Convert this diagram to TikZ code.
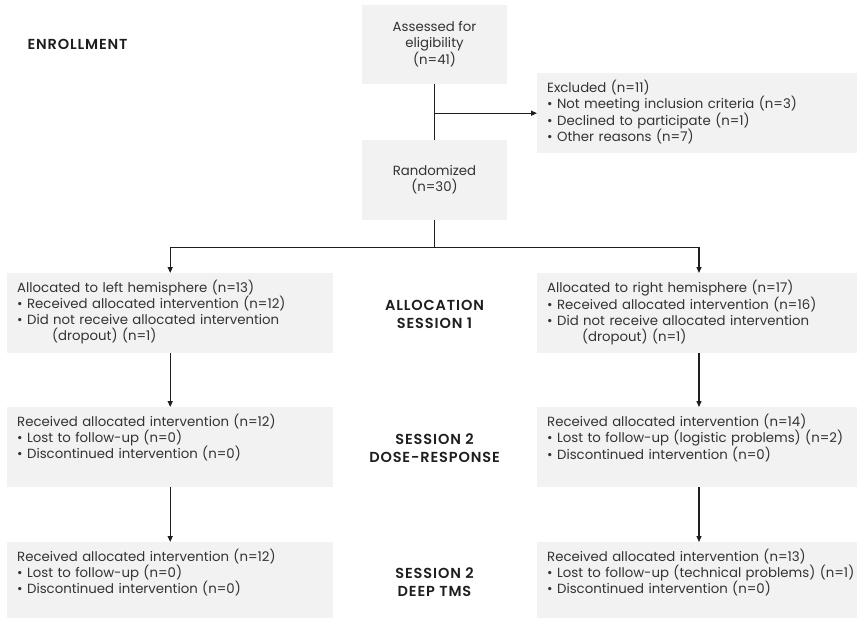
\documentclass[tikz,border=0pt]{standalone}
\usepackage{fontspec}
\setmainfont{Poppins}
\newfontfamily\labelfont{Poppins SemiBold}[LetterSpace=6]
\usetikzlibrary{arrows.meta,positioning,calc}
\definecolor{boxbg}{HTML}{F2F2F2}
\definecolor{ink}{HTML}{333333}
\definecolor{linex}{HTML}{1E1E1E}
\tikzset{
  ar/.style={-{Triangle[length=6pt,width=5pt]},line width=1.3pt,linex},
  ln/.style={line width=1.3pt,linex},
  cbox/.style={fill=boxbg,text=ink,align=center,minimum width=145pt,minimum height=79pt,inner sep=0pt,font=\fontsize{13.3}{16}\selectfont},
  lbox/.style={fill=boxbg,text=ink,align=left,anchor=north west,inner xsep=10pt,inner ysep=8pt,text height=11pt,text depth=53pt,font=\fontsize{13.3}{16}\selectfont},
  stage/.style={text=linex,align=center,font=\labelfont\fontsize{14.5}{18}\selectfont}
}

\begin{document}
\begin{tikzpicture}[x=1pt,y=-1pt]
\useasboundingbox (0,0) rectangle (857,618);
\node[cbox] (assess) at (434.5,44.5) {Assessed for\\eligibility\\(n=41)};
\node[lbox,text width=340pt] (excl) at (537,73) {Excluded (n=11)\\\textbullet\ Not meeting inclusion criteria (n=3)\\\textbullet\ Declined to participate (n=1)\\\textbullet\ Other reasons (n=7)};
\node[cbox,minimum height=80pt] (rand) at (434.5,180) {Randomized\\(n=30)};
\node[lbox,text width=306pt] (allocL) at (7,273) {Allocated to left hemisphere (n=13)\\\textbullet\ Received allocated intervention (n=12)\\\textbullet\ Did not receive allocated intervention\\\hspace*{35pt}(dropout) (n=1)};
\node[lbox,text width=340pt] (allocR) at (537,273) {Allocated to right hemisphere (n=17)\\\textbullet\ Received allocated intervention (n=16)\\\textbullet\ Did not receive allocated intervention\\\hspace*{35pt}(dropout) (n=1)};
\node[lbox,text width=306pt] (doseL) at (7,407) {Received allocated intervention (n=12)\\\textbullet\ Lost to follow-up (n=0)\\\textbullet\ Discontinued intervention (n=0)};
\node[lbox,text width=340pt] (doseR) at (537,407) {Received allocated intervention (n=14)\\\textbullet\ Lost to follow-up (logistic problems) (n=2)\\\textbullet\ Discontinued intervention (n=0)};
\node[lbox,text width=306pt,text depth=50pt] (deepL) at (7,542) {Received allocated intervention (n=12)\\\textbullet\ Lost to follow-up (n=0)\\\textbullet\ Discontinued intervention (n=0)};
\node[lbox,text width=340pt,text depth=50pt] (deepR) at (537,542) {Received allocated intervention (n=13)\\\textbullet\ Lost to follow-up (technical problems) (n=1)\\\textbullet\ Discontinued intervention (n=0)};
% stage labels
\node[stage,anchor=west] (enrol) at (24,44) {ENROLLMENT};
\node[stage] (s1) at (434.5,314) {ALLOCATION\\SESSION 1};
\node[stage] (s2) at (434.5,448) {SESSION 2\\DOSE-RESPONSE};
\node[stage] (s3) at (434.5,582) {SESSION 2\\DEEP TMS};
% connectors
\draw[ln] (assess) -- (rand);
\coordinate (split) at (assess.south |- excl.west);
\draw[ar] (split) -- (excl.west);
\coordinate (fork) at ($(rand.south)+(0,27)$);
\draw[ln] (rand) -- (fork);
\draw[ar] (fork) -| (allocL.north);
\draw[ar] (fork) -| ($(allocR.north west)+(162,0)$);
\draw[ar] (allocL) -- (doseL);
\draw[ar] (doseL) -- (deepL);
\draw[ar] ($(allocR.south west)+(162,0)$) -- ($(doseR.north west)+(162,0)$);
\draw[ar] ($(doseR.south west)+(162,0)$) -- ($(deepR.north west)+(162,0)$);
\end{tikzpicture}
\end{document}
